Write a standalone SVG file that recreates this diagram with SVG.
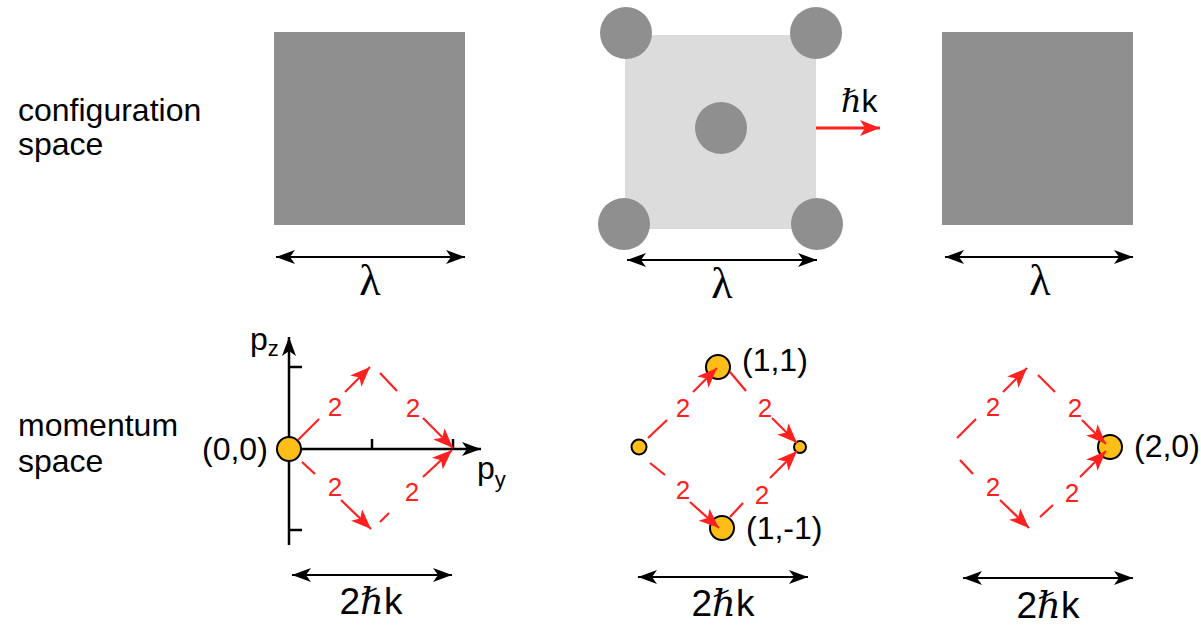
<svg xmlns="http://www.w3.org/2000/svg" width="1201" height="627" viewBox="0 0 1201 627">
<style>
.lbl{font-family:"Liberation Sans",Arial,sans-serif;font-size:32px;fill:#000}
.big{font-family:"Liberation Sans",Arial,sans-serif;font-size:37px;fill:#000;text-anchor:middle}
.two{font-family:"Liberation Sans",Arial,sans-serif;font-size:26px;fill:#ff2020;text-anchor:middle}
.lam{font-family:"Liberation Serif","Times New Roman",serif;font-size:44px;fill:#000;text-anchor:middle}
.hb{font-family:"DejaVu Serif",serif;font-style:italic}
.dark{fill:#8f8f8f}
.light{fill:#dcdcdc}
.dim{stroke:#000;stroke-width:2;fill:none;marker-start:url(#bk);marker-end:url(#bk)}
.ax{stroke:#000;stroke-width:2.5;fill:none}
.rd{stroke:#ff2020;stroke-width:2.2;fill:none}
.ra{stroke:#ff2020;stroke-width:2.2;fill:none;marker-end:url(#ra)}
.dot{fill:#fdbf17;stroke:#000;stroke-width:2}
</style>
<defs>
<marker id="bk" markerUnits="userSpaceOnUse" markerWidth="20" markerHeight="14" refX="19" refY="7" orient="auto-start-reverse">
<path d="M0,0 L19,7 L0,14 L5,7 z" fill="#000"/>
</marker>
<marker id="ra" markerUnits="userSpaceOnUse" markerWidth="21" markerHeight="16" refX="20" refY="8" orient="auto">
<path d="M0,0 L20,8 L0,16 L5,8 z" fill="#ff2020"/>
</marker>
</defs>
<rect width="1201" height="627" fill="#fff"/>

<g id="row-labels">
<text class="lbl" x="18" y="121">configuration</text>
<text class="lbl" x="18" y="155">space</text>
<text class="lbl" x="18" y="436">momentum</text>
<text class="lbl" x="18" y="472">space</text>
</g>

<g id="config-left">
<rect class="dark" x="274" y="32" width="191" height="193"/>
<line class="dim" x1="276" y1="257" x2="465" y2="257"/>
<text class="lam" x="370" y="295">λ</text>
</g>

<g id="config-middle">
<rect class="light" x="625" y="35" width="191" height="194"/>
<circle class="dark" cx="626" cy="33" r="26"/>
<circle class="dark" cx="816" cy="33" r="26"/>
<circle class="dark" cx="624" cy="224" r="26"/>
<circle class="dark" cx="817" cy="224" r="26"/>
<circle class="dark" cx="721" cy="128" r="26"/>
<line x1="816" y1="128" x2="880" y2="128" stroke="#ff2020" stroke-width="3" marker-end="url(#ra)"/>
<text class="lbl" x="841" y="112" font-size="33"><tspan class="hb">ℏ</tspan>k</text>
<line class="dim" x1="627" y1="260" x2="817" y2="260"/>
<text class="lam" x="722" y="298">λ</text>
</g>

<g id="config-right">
<rect class="dark" x="942" y="32" width="191" height="193"/>
<line class="dim" x1="945" y1="257" x2="1133" y2="257"/>
<text class="lam" x="1040" y="295">λ</text>
</g>

<g id="axes">
<line class="ax" x1="289" y1="545" x2="289" y2="337" marker-end="url(#bk)"/>
<line class="ax" x1="289" y1="449" x2="481" y2="449" marker-end="url(#bk)"/>
<line class="ax" x1="289" y1="367" x2="302" y2="367"/>
<line class="ax" x1="289" y1="530" x2="302" y2="530"/>
<line class="ax" x1="372" y1="449" x2="372" y2="439"/>
<line class="ax" x1="453" y1="449" x2="453" y2="439"/>
<text class="lbl" x="250" y="350">p<tspan font-size="22" dy="6">z</tspan></text>
<text class="lbl" x="477" y="479">p<tspan font-size="22" dy="8">y</tspan></text>
</g>

<g id="node-00">
<circle class="dot" cx="289" cy="449" r="12"/>
<text class="lbl" x="202" y="460">(0,0)</text>
</g>
<g id="node-11">
<circle class="dot" cx="718" cy="367" r="12"/>
<text class="lbl" x="742" y="371">(1,1)</text>
</g>
<g id="node-1m1">
<circle class="dot" cx="722" cy="528" r="12"/>
<text class="lbl" x="746" y="539">(1,-1)</text>
</g>
<g id="node-mid-left">
<circle class="dot" cx="639" cy="447" r="7.5"/>
</g>
<g id="node-mid-right">
<circle class="dot" cx="800" cy="447" r="6"/>
</g>
<g id="node-20">
<circle class="dot" cx="1110" cy="447" r="12"/>
<text class="lbl" x="1134" y="457">(2,0)</text>
</g>

<g id="connectors">
<!-- left -->
<line class="rd" x1="298" y1="440" x2="319" y2="419"/>
<line class="ra" x1="345" y1="392" x2="370" y2="367"/>
<text class="two" x="335" y="416">2</text>
<line class="rd" x1="380" y1="373" x2="397" y2="391"/>
<line class="ra" x1="423" y1="418" x2="453" y2="448"/>
<text class="two" x="413" y="417">2</text>
<line class="rd" x1="302" y1="462" x2="315" y2="474"/>
<line class="ra" x1="341" y1="500" x2="371" y2="529"/>
<text class="two" x="335" y="496">2</text>
<line class="rd" x1="380" y1="522" x2="389" y2="513"/>
<line class="ra" x1="423" y1="477" x2="452" y2="450"/>
<text class="two" x="412" y="501">2</text>
<!-- middle -->
<line class="rd" x1="648" y1="438" x2="667" y2="420"/>
<line class="ra" x1="693" y1="392" x2="717" y2="368"/>
<text class="two" x="683" y="417">2</text>
<line class="rd" x1="730" y1="372" x2="746" y2="391"/>
<line class="ra" x1="772" y1="418" x2="797" y2="443"/>
<text class="two" x="765" y="417">2</text>
<line class="rd" x1="650" y1="463" x2="665" y2="475"/>
<line class="ra" x1="690" y1="502" x2="719" y2="528"/>
<text class="two" x="683" y="499">2</text>
<line class="rd" x1="730" y1="517" x2="743" y2="503"/>
<line class="ra" x1="770" y1="478" x2="797" y2="451"/>
<text class="two" x="762" y="504">2</text>
<!-- right -->
<line class="rd" x1="957" y1="438" x2="976" y2="419"/>
<line class="ra" x1="1003" y1="392" x2="1027" y2="368"/>
<text class="two" x="993" y="416">2</text>
<line class="rd" x1="1038" y1="375" x2="1055" y2="392"/>
<line class="ra" x1="1082" y1="420" x2="1106" y2="444"/>
<text class="two" x="1075" y="417">2</text>
<line class="rd" x1="960" y1="460" x2="973" y2="474"/>
<line class="ra" x1="1000" y1="500" x2="1029" y2="528"/>
<text class="two" x="993" y="496">2</text>
<line class="rd" x1="1040" y1="517" x2="1053" y2="505"/>
<line class="ra" x1="1080" y1="477" x2="1106" y2="451"/>
<text class="two" x="1072" y="502">2</text>
</g>

<g id="scale-bottom">
<line class="dim" x1="292" y1="575" x2="452" y2="575"/>
<text class="big" x="371" y="614">2<tspan class="hb">ℏ</tspan>k</text>
<line class="dim" x1="638" y1="577" x2="808" y2="577"/>
<text class="big" x="723" y="616">2<tspan class="hb">ℏ</tspan>k</text>
<line class="dim" x1="963" y1="578" x2="1133" y2="578"/>
<text class="big" x="1048" y="618">2<tspan class="hb">ℏ</tspan>k</text>
</g>
</svg>
